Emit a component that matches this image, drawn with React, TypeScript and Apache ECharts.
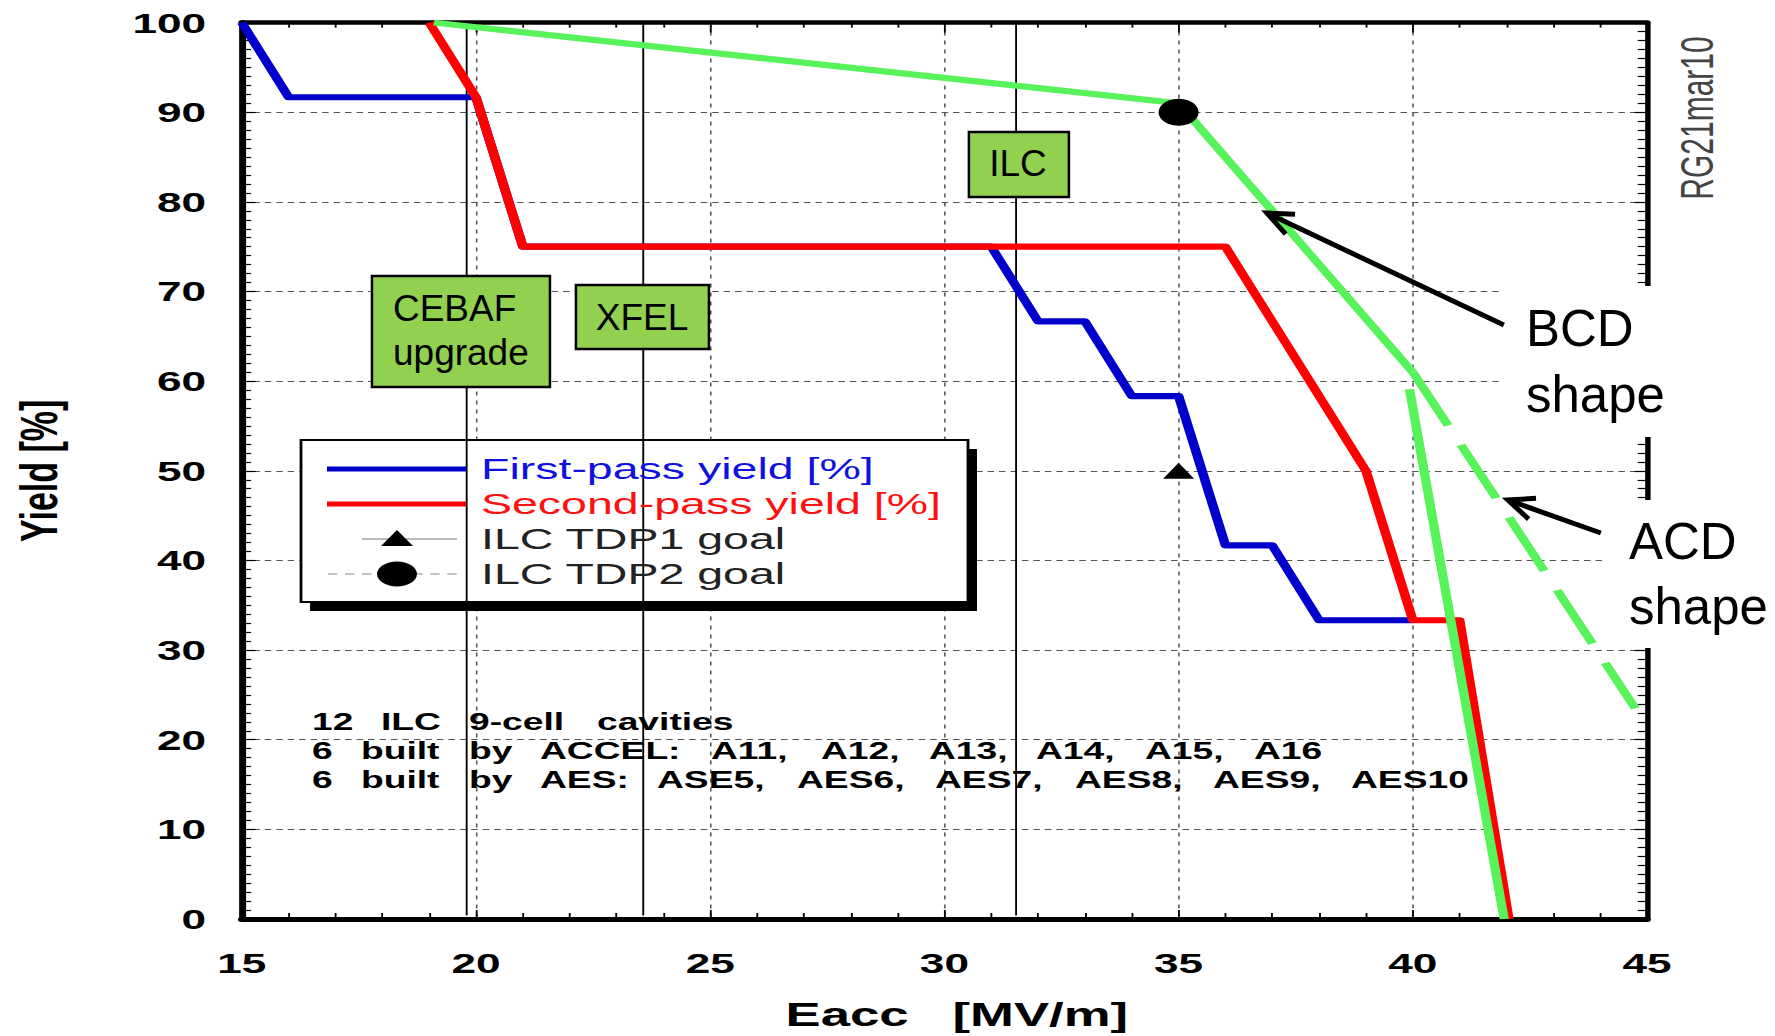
import React, { useEffect, useRef } from 'react';
import * as echarts from 'echarts';

// ---------- data ----------
const firstPassX = [15, 16, 20, 21, 31, 32, 33, 34, 35, 36, 37, 38, 40];
const firstPassY = [100, 91.67, 91.67, 75, 75, 66.67, 66.67, 58.33, 58.33, 41.67, 41.67, 33.33, 33.33];
const secondPassX = [19, 20, 21, 36, 39, 40, 41, 42.05];
const secondPassY = [100, 91.67, 75, 75, 50, 33.33, 33.33, 0];
const bcdX = [19.1, 35, 40];
const bcdY = [100, 91, 61];
const bcdTailX = [39.93, 41.95];
const bcdTailY = [59.1, 0];
const acdX = [40, 44.75];
const acdY = [61, 23.5];
const tdp1Goal = [35, 50];
const tdp2Goal = [35, 90];
const projectNames = ['CEBAF upgrade', 'XFEL', 'ILC'];
const projectGradients = [19.8, 23.57, 31.53];
const xMin = 15, xMax = 45, xStep = 5;
const yMin = 0, yMax = 100, yStep = 10;
const legendNames = ['First-pass yield [%]', 'Second-pass yield [%]', 'ILC TDP1 goal', 'ILC TDP2 goal'];
const noteLine1 = ['12', 'ILC', '9-cell', 'cavities'];
const noteLine2 = ['6', 'built', 'by', 'ACCEL:', 'A11,', 'A12,', 'A13,', 'A14,', 'A15,', 'A16'];
const noteLine3 = ['6', 'built', 'by', 'AES:', 'ASE5,', 'AES6,', 'AES7,', 'AES8,', 'AES9,', 'AES10'];

// ---------- layout (full-size pixels) ----------
const FULL_W = 1775;
const FULL_H = 1036;
const W0 = 1145; // chart is drawn narrower, then stretched horizontally like the original figure
const SX = FULL_W / W0;
const FONT = '"Liberation Sans", Arial, Helvetica, sans-serif';
const L = (v: number) => v / SX;

const note1X = [312, 381, 469, 597];
const note2X = [312, 361, 469, 540, 711, 821, 929, 1036, 1145, 1254];
const note3X = [312, 361, 469, 540, 657, 797, 935, 1075, 1213, 1351];
const noteY = [722, 751, 780];

const zip = (xs: number[], ys: number[]) => xs.map((x, i) => [x, ys[i]]);

function txt(x: number, y: number, text: string, o: any = {}, z = 5) {
  return {
    type: 'text', x, y, z, silent: true,
    style: {
      text, fontFamily: FONT, fontSize: o.fontSize ?? 30, fontWeight: o.fontWeight ?? 'normal',
      fill: o.fill ?? '#000', align: o.align ?? 'left', textAlign: o.align ?? 'left',
      verticalAlign: 'middle', textVerticalAlign: 'middle',
    },
    rotation: o.rotation ?? 0,
  };
}

function arrow(x1: number, y1: number, x2: number, y2: number) {
  const dx = x2 - x1, dy = y2 - y1;
  const len = Math.sqrt(dx * dx + dy * dy);
  const ux = dx / len, uy = dy / len;
  const bx = x2 - ux * 26, by = y2 - uy * 26;
  const px = -uy * 11, py = ux * 11;
  return [
    { type: 'line', z: 11, shape: { x1, y1, x2: x2 - ux * 2, y2: y2 - uy * 2 }, style: { stroke: '#000', lineWidth: 5 } },
    {
      type: 'polyline', z: 11,
      shape: { points: [[bx + px, by + py], [x2, y2], [bx - px, by - py]] },
      style: { stroke: '#000', lineWidth: 5, fill: null, lineJoin: 'miter' },
    },
  ];
}

function buildOption() {
  const greenC = '#58F25A';
  const series: any[] = [];
  projectGradients.forEach((g, i) => {
    series.push({
      type: 'line', name: projectNames[i] + ' gradient', data: [[g, 0.4], [g, 100]],
      symbol: 'none', showSymbol: false, silent: true, z: 2,
      lineStyle: { color: '#000', width: 1.2 },
    });
  });
  series.push({
    type: 'line', name: legendNames[0], data: zip(firstPassX, firstPassY), symbol: 'none', showSymbol: false,
    z: 3, lineStyle: { color: '#0000CC', width: 6.2, join: 'round' }, itemStyle: { color: '#0000CC' },
  });
  series.push({
    type: 'line', name: legendNames[1], data: zip(secondPassX, secondPassY), symbol: 'none', showSymbol: false,
    z: 3, lineStyle: { color: '#FF0000', width: 6.2, join: 'round' }, itemStyle: { color: '#FF0000' },
  });
  series.push({
    type: 'line', name: 'BCD shape', data: zip(bcdX, bcdY), symbol: 'none', showSymbol: false,
    z: 3, lineStyle: { color: greenC, width: 6, join: 'round' },
  });
  series.push({
    type: 'line', name: 'BCD shape tail', data: zip(bcdTailX, bcdTailY), symbol: 'none', showSymbol: false,
    z: 3, lineStyle: { color: greenC, width: 6 },
  });
  series.push({
    type: 'line', name: 'ACD shape', data: zip(acdX, acdY), symbol: 'none', showSymbol: false,
    z: 3, lineStyle: { color: greenC, width: 6, type: [58, 21] },
  });
  series.push({
    type: 'scatter', name: legendNames[2], data: [tdp1Goal], symbol: 'triangle', symbolSize: [L(31), 16],
    z: 4, itemStyle: { color: '#000', opacity: 1 },
  });
  series.push({
    type: 'scatter', name: legendNames[3], data: [tdp2Goal], symbol: 'circle', symbolSize: [L(40), 27],
    z: 4, itemStyle: { color: '#000', opacity: 1 },
  });

  const g: any[] = [];
  // legend box (stretched with the plot)
  g.push({ type: 'rect', z: 1, silent: true, shape: { x: L(310), y: 449, width: L(667), height: 162 }, style: { fill: '#000' } });
  g.push({ type: 'rect', z: 1.5, silent: true, shape: { x: L(301), y: 440, width: L(667), height: 162 }, style: { fill: '#fff', stroke: '#000', lineWidth: 1.8 } });
  g.push({ type: 'line', z: 5, shape: { x1: L(327), y1: 469, x2: L(466), y2: 469 }, style: { stroke: '#0000CC', lineWidth: 5 } });
  g.push({ type: 'line', z: 5, shape: { x1: L(327), y1: 504, x2: L(466), y2: 504 }, style: { stroke: '#FF0000', lineWidth: 5 } });
  g.push({ type: 'line', z: 5, shape: { x1: L(362), y1: 539, x2: L(457), y2: 539 }, style: { stroke: '#777', lineWidth: 1 } });
  const tcx = L(397);
  g.push({ type: 'polygon', z: 5.5, shape: { points: [[tcx, 530], [tcx - L(16), 546], [tcx + L(16), 546]] }, style: { fill: '#000' } });
  g.push({ type: 'line', z: 5, shape: { x1: L(328), y1: 574, x2: L(463), y2: 574 }, style: { stroke: '#888', lineWidth: 1, lineDash: [6, 5] } });
  g.push({ type: 'ellipse', z: 5.5, shape: { cx: tcx, cy: 574, rx: L(20), ry: 12.5 }, style: { fill: '#000' } });
  const legendColors = ['#1010E0', '#FF1010', '#222', '#222'];
  const legendY = [469, 504, 539, 574];
  legendNames.forEach((n, i) => g.push(txt(L(481), legendY[i], n, { fontSize: 30, fill: legendColors[i] }, 6)));

  // note text block
  const lines = [[noteLine1, note1X], [noteLine2, note2X], [noteLine3, note3X]] as any[];
  lines.forEach(([words, xs], li) => {
    words.forEach((w: string, wi: number) => g.push(txt(L(xs[wi]), noteY[li], w, { fontSize: 24, fontWeight: 'bold' }, 5)));
  });

  // stamp
  g.push(txt(L(1697), 118, 'RG21mar10', { fontSize: 30, fill: '#444', align: 'center', rotation: Math.PI / 2 }, 5));

  // un-stretched annotations
  const ann: any[] = [];
  ann.push({ type: 'rect', z: 9, shape: { x: 1500, y: 286, width: 275, height: 151 }, style: { fill: '#fff' } });
  ann.push({ type: 'rect', z: 9, shape: { x: 1603, y: 500, width: 172, height: 148 }, style: { fill: '#fff' } });
  const boxStyle = { fill: '#92D050', stroke: '#000', lineWidth: 2.5 };
  ann.push({ type: 'rect', z: 10, shape: { x: 372, y: 276, width: 178, height: 111 }, style: boxStyle });
  ann.push({ type: 'rect', z: 10, shape: { x: 576, y: 285, width: 133, height: 64 }, style: boxStyle });
  ann.push({ type: 'rect', z: 10, shape: { x: 969, y: 132, width: 100, height: 65 }, style: boxStyle });
  ann.push(txt(393, 308.5, 'CEBAF', { fontSize: 37 }, 11));
  ann.push(txt(393, 352, 'upgrade', { fontSize: 37 }, 11));
  ann.push(txt(642, 317, 'XFEL', { fontSize: 37, align: 'center' }, 11));
  ann.push(txt(1018, 163.5, 'ILC', { fontSize: 37, align: 'center' }, 11));
  ann.push(txt(1526, 328, 'BCD', { fontSize: 51 }, 11));
  ann.push(txt(1526, 394, 'shape', { fontSize: 51 }, 11));
  ann.push(txt(1629, 541, 'ACD', { fontSize: 51 }, 11));
  ann.push(txt(1629, 606, 'shape', { fontSize: 51 }, 11));
  ann.push(...arrow(1504, 325, 1267, 213));
  ann.push(...arrow(1601, 533, 1508, 500));
  g.push({ type: 'group', scaleX: 1 / SX, x: 0, y: 0, children: ann });

  const tickLine = { color: '#000', width: 1.2 };
  return {
    animation: false,
    backgroundColor: '#fff',
    grid: { left: L(240), right: W0 - L(1647), top: 22.6, bottom: FULL_H - 921, containLabel: false },
    xAxis: [
      {
        type: 'value', min: xMin, max: xMax, interval: xStep, position: 'bottom',
        axisLine: { show: true, onZero: false, lineStyle: { color: '#000', width: 5 } },
        axisTick: { show: true, inside: true, length: 9, lineStyle: tickLine },
        minorTick: { show: true, splitNumber: 5, length: 6, lineStyle: tickLine },
        splitLine: { show: true, lineStyle: { color: '#555', width: 1, type: [4, 5] } },
        axisLabel: { fontFamily: FONT, fontWeight: 'bold', fontSize: 28.5, color: '#000', margin: 30 },
        name: 'Eacc   [MV/m]', nameLocation: 'middle', nameGap: 78,
        nameTextStyle: { fontFamily: FONT, fontWeight: 'bold', fontSize: 34, color: '#000', padding: [0, 0, 0, 16] },
      },
      {
        type: 'value', min: xMin, max: xMax, interval: xStep, position: 'top',
        axisLine: { show: true, onZero: false, lineStyle: { color: '#000', width: 4.5 } },
        axisTick: { show: true, inside: true, length: 10, lineStyle: tickLine },
        minorTick: { show: true, splitNumber: 5, length: 5, lineStyle: tickLine },
        splitLine: { show: false }, axisLabel: { show: false },
      },
    ],
    yAxis: [
      {
        type: 'value', min: yMin, max: yMax, interval: yStep, position: 'left',
        axisLine: { show: true, onZero: false, lineStyle: { color: '#000', width: 4.5 } },
        axisTick: { show: true, inside: true, length: 9, lineStyle: tickLine },
        minorTick: { show: true, splitNumber: 10, length: 6, lineStyle: tickLine },
        splitLine: { show: true, lineStyle: { color: '#555', width: 1, type: [4.2, 3.2] } },
        axisLabel: { fontFamily: FONT, fontWeight: 'bold', fontSize: 28.5, color: '#000', margin: 23 },
        name: 'Yield [%]', nameLocation: 'middle', nameGap: 114,
        nameTextStyle: { fontFamily: FONT, fontWeight: 'bold', fontSize: 34, color: '#000' },
      },
      {
        type: 'value', min: yMin, max: yMax, interval: yStep, position: 'right',
        axisLine: { show: true, onZero: false, lineStyle: { color: '#000', width: 3.5 } },
        axisTick: { show: true, inside: true, length: 8, lineStyle: tickLine },
        minorTick: { show: true, splitNumber: 10, length: 6, lineStyle: tickLine },
        splitLine: { show: false }, axisLabel: { show: false },
      },
    ],
    series,
    graphic: { elements: g },
  };
}

export default function App() {
  const ref = useRef<HTMLDivElement>(null);
  useEffect(() => {
    if (!ref.current) return;
    const chart = echarts.init(ref.current, null, { renderer: 'svg' });
    chart.setOption(buildOption() as any);
    return () => chart.dispose();
  }, []);
  return (
    <div style={{ position: 'absolute', left: 0, top: 0, width: FULL_W, height: FULL_H, overflow: 'hidden', background: '#fff' }}>
      <div
        ref={ref}
        style={{ width: W0, height: FULL_H, transform: `scaleX(${SX})`, transformOrigin: '0 0' }}
      />
    </div>
  );
}
